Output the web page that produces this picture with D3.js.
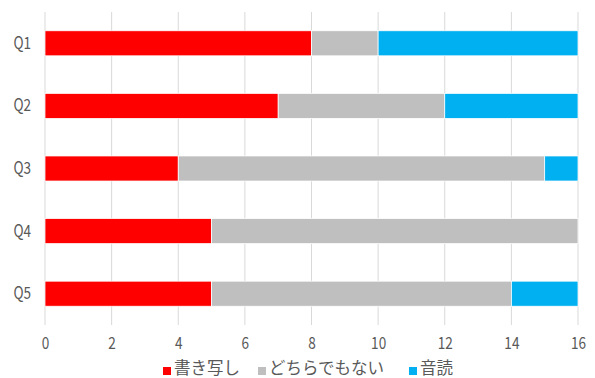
<!DOCTYPE html>
<html>
<head>
<meta charset="utf-8">
<script src="https://cdn.jsdelivr.net/npm/d3@7"></script>
<style>
  body { margin: 0; background: #fff; }
  text { font-family: "Noto Sans CJK JP", "Noto Sans", sans-serif; fill: #595959; }
</style>
</head>
<body>
<div class="canvas"></div>
<script>
const questions = ['Q1', 'Q2', 'Q3', 'Q4', 'Q5'];
const seriesNames = ['書き写し', 'どちらでもない', '音読'];
const seriesColors = ['#ff0000', '#bfbfbf', '#00b0f0'];
const copyValues = [8, 7, 4, 5, 5];
const neutralValues = [2, 5, 11, 11, 9];
const readValues = [6, 4, 1, 0, 2];
const xTicks = [0, 2, 4, 6, 8, 10, 12, 14, 16];

const width = 595, height = 378;
const margin = { top: 12, right: 17, bottom: 53, left: 45 };
const squeeze = 0.8; // narrow look of the labels

const rows = questions.map((q, i) => ({
  q: q,
  '書き写し': copyValues[i],
  'どちらでもない': neutralValues[i],
  '音読': readValues[i]
}));

const svg = d3.select('.canvas')
  .append('svg')
  .attr('width', width)
  .attr('height', height);

const x = d3.scaleLinear().domain([0, 16]).range([margin.left, width - margin.right]);
const y = d3.scaleBand().domain(questions)
  .range([margin.top, height - margin.bottom])
  .paddingInner(0.6).paddingOuter(0.3);

// gridlines
svg.append('g')
  .selectAll('line')
  .data(xTicks)
  .join('line')
  .attr('x1', d => x(d)).attr('x2', d => x(d))
  .attr('y1', margin.top).attr('y2', height - margin.bottom)
  .attr('stroke', '#d9d9d9').attr('stroke-width', 1);

// stacked bars
const stacked = d3.stack().keys(seriesNames)(rows);
const color = d3.scaleOrdinal().domain(seriesNames).range(seriesColors);

svg.append('g')
  .selectAll('g')
  .data(stacked)
  .join('g')
  .attr('fill', d => color(d.key))
  .selectAll('rect')
  .data(d => d.filter(s => s[1] > s[0]))
  .join('rect')
  .attr('x', d => x(d[0]))
  .attr('width', d => x(d[1]) - x(d[0]))
  .attr('y', d => y(d.data.q))
  .attr('height', y.bandwidth())
  .attr('stroke', '#fff').attr('stroke-width', 0.75);

// x axis labels
const xAxis = svg.append('g')
  .attr('transform', `translate(0,${height - margin.bottom})`)
  .call(d3.axisBottom(x).tickValues(xTicks).tickSize(0).tickPadding(12));
xAxis.select('.domain').remove();
xAxis.selectAll('text')
  .attr('font-size', 17)
  .attr('transform', `scale(${squeeze},1)`)
  .style('fill', '#595959');

// y axis labels
const yAxis = svg.append('g')
  .attr('transform', `translate(${margin.left},0)`)
  .call(d3.axisLeft(y).tickSize(0));
yAxis.select('.domain').remove();
yAxis.selectAll('text')
  .attr('font-size', 17)
  .attr('x', -14 / squeeze)
  .attr('transform', `scale(${squeeze},1)`)
  .style('fill', '#595959');

// legend
const legendX = [163, 258, 409];
const legend = svg.append('g')
  .selectAll('g')
  .data(seriesNames)
  .join('g')
  .attr('transform', (d, i) => `translate(${legendX[i]},${height - 4})`);
legend.append('rect')
  .attr('x', 0).attr('y', -7).attr('width', 8).attr('height', 8)
  .attr('fill', d => color(d));
legend.append('text')
  .attr('x', 11).attr('y', 0)
  .attr('font-size', 16.5)
  .text(d => d);
</script>
</body>
</html>
